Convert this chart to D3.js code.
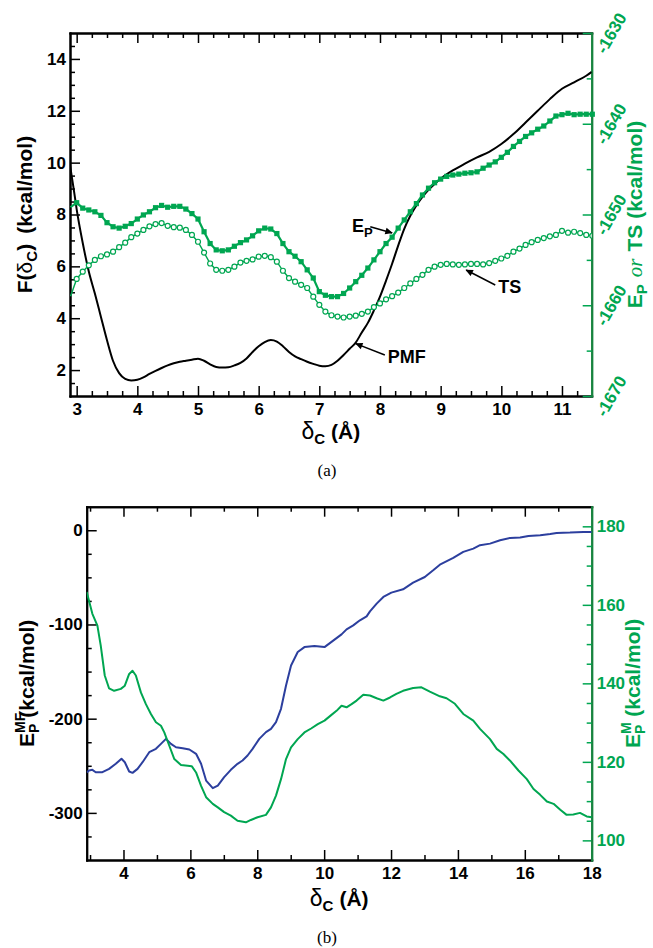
<!DOCTYPE html>
<html lang="en">
<head>
<meta charset="utf-8">
<title>PMF and energy components</title>
<script src="https://cdn.jsdelivr.net/npm/d3@7"></script>
<style>
	body { margin:0; background:#fff; }
	svg text { font-family: "Liberation Sans", Arial, sans-serif; font-weight: bold; }
</style>
</head>
<body>
<div id="chart"></div>
<script>

// ---- panel (a) data ----
// PMF, left axis (kcal/mol)
var pmfX = [2.89,2.95,3.0,3.1,3.2,3.3,3.4,3.5,3.6,3.7,3.8,3.9,4.0,4.1,4.2,4.3,4.4,4.5,4.6,4.7,4.8,4.9,5.0,5.1,5.2,5.3,5.4,5.5,5.6,5.7,5.8,5.9,6.0,6.1,6.2,6.3,6.4,6.5,6.6,6.7,6.8,6.9,7.0,7.1,7.2,7.3,7.4,7.5,7.6,7.7,7.8,7.9,8.0,8.1,8.2,8.3,8.4,8.5,8.6,8.7,8.8,8.9,9.0,9.2,9.4,9.6,9.8,10.0,10.2,10.4,10.6,10.8,11.0,11.2,11.4,11.49]
var pmfF = [9.9,9.0,8.2,6.9,5.8,4.95,4.05,3.15,2.35,1.88,1.66,1.6,1.63,1.72,1.85,1.97,2.08,2.18,2.26,2.32,2.36,2.4,2.44,2.36,2.22,2.12,2.1,2.11,2.18,2.28,2.45,2.7,2.92,3.08,3.16,3.1,2.92,2.7,2.53,2.42,2.32,2.24,2.17,2.15,2.2,2.36,2.58,2.82,3.06,3.45,3.82,4.3,4.83,5.45,6.1,6.8,7.45,7.95,8.35,8.68,8.95,9.18,9.38,9.7,9.96,10.2,10.42,10.72,11.1,11.55,12.0,12.45,12.85,13.1,13.35,13.5]

// E_P and TS, right axis (kcal/mol), sampled every 0.1 A
var gridX = [2.9,3.0,3.1,3.2,3.3,3.4,3.5,3.6,3.7,3.8,3.9,4.0,4.1,4.2,4.3,4.4,4.5,4.6,4.7,4.8,4.9,5.0,5.1,5.2,5.3,5.4,5.5,5.6,5.7,5.8,5.9,6.0,6.1,6.2,6.3,6.4,6.5,6.6,6.7,6.8,6.9,7.0,7.1,7.2,7.3,7.4,7.5,7.6,7.7,7.8,7.9,8.0,8.1,8.2,8.3,8.4,8.5,8.6,8.7,8.8,8.9,9.0,9.1,9.2,9.3,9.4,9.5,9.6,9.7,9.8,9.9,10.0,10.1,10.2,10.3,10.4,10.5,10.6,10.7,10.8,10.9,11.0,11.1,11.2,11.3,11.4,11.5]
var epE = [-1649.2,-1648.7,-1649.3,-1649.5,-1649.7,-1650.1,-1650.9,-1651.35,-1651.5,-1651.3,-1651.0,-1650.5,-1650.05,-1649.7,-1649.25,-1649.0,-1649.2,-1649.1,-1649.1,-1649.4,-1649.9,-1650.5,-1651.9,-1653.2,-1653.9,-1654.0,-1653.9,-1653.5,-1653.1,-1652.8,-1652.35,-1651.8,-1651.5,-1651.6,-1652.1,-1653.2,-1654.1,-1654.6,-1655.2,-1656.1,-1657.0,-1658.5,-1658.9,-1659.05,-1659.05,-1658.7,-1658.1,-1657.4,-1656.7,-1655.9,-1655.0,-1654.1,-1653.2,-1652.5,-1651.5,-1650.6,-1649.7,-1648.8,-1647.85,-1647.1,-1646.5,-1646.1,-1645.8,-1645.65,-1645.55,-1645.45,-1645.4,-1645.3,-1644.9,-1644.55,-1644.2,-1643.7,-1643.15,-1642.5,-1641.95,-1641.4,-1641.0,-1640.6,-1640.25,-1639.7,-1639.15,-1639.0,-1638.85,-1639.0,-1638.95,-1638.95,-1638.95]
var tsE = [-1659.0,-1657.1,-1656.3,-1655.6,-1655.0,-1654.6,-1654.4,-1654.1,-1653.6,-1653.1,-1652.5,-1652.1,-1651.7,-1651.3,-1651.05,-1650.95,-1651.25,-1651.4,-1651.45,-1651.7,-1652.25,-1653.0,-1654.2,-1655.4,-1656.1,-1656.2,-1656.1,-1655.75,-1655.3,-1655.1,-1654.95,-1654.65,-1654.55,-1654.7,-1655.2,-1656.2,-1657.0,-1657.4,-1657.75,-1658.1,-1659.05,-1659.95,-1660.7,-1661.1,-1661.25,-1661.35,-1661.25,-1661.15,-1660.95,-1660.7,-1660.2,-1659.8,-1659.35,-1659.0,-1658.6,-1658.1,-1657.6,-1657.1,-1656.65,-1656.1,-1655.75,-1655.55,-1655.45,-1655.5,-1655.55,-1655.5,-1655.45,-1655.45,-1655.5,-1655.35,-1655.1,-1654.85,-1654.55,-1654.1,-1653.75,-1653.35,-1653.05,-1652.8,-1652.6,-1652.4,-1652.25,-1651.8,-1652.0,-1651.9,-1652.05,-1652.25,-1652.35]

var aXTicks = [3,4,5,6,7,8,9,10,11]
var aYTicks = [2,4,6,8,10,12,14]
var aRTicks = [-1670,-1660,-1650,-1640,-1630]

// ---- panel (b) data ----
var mfX = [2.9,2.97,3.07,3.17,3.37,3.57,3.77,3.94,4.04,4.17,4.27,4.42,4.57,4.77,4.97,5.12,5.27,5.42,5.57,5.77,5.97,6.17,6.32,6.47,6.67,6.82,7.01,7.21,7.41,7.56,7.71,7.86,8.06,8.26,8.41,8.56,8.71,8.86,9.01,9.21,9.41,9.71,10.01,10.21,10.41,10.52,10.67,10.87,11.07,11.27,11.37,11.57,11.77,12.01,12.36,12.66,13.01,13.26,13.46,13.86,14.16,14.46,14.66,14.96,15.26,15.56,15.86,16.11,16.46,16.76,16.95,17.35,17.75,18.0]
var mfE = [-257,-255,-254.3,-256.8,-256.8,-253.3,-247.9,-242.6,-246.2,-256.1,-257.5,-253.3,-246.2,-235.6,-232.0,-226.7,-221.4,-226.7,-230.3,-231.3,-232.7,-237.3,-247.9,-265.7,-273.8,-271.0,-262.1,-254.3,-247.9,-244.4,-239.1,-232.0,-221.4,-214.3,-210.8,-203.7,-189.5,-164.7,-143.5,-129.3,-124.0,-122.9,-124.0,-118.7,-113.4,-110.5,-105.2,-101.0,-95.6,-91.4,-86.1,-77.9,-70.8,-66.2,-62.7,-55.6,-49.6,-42.5,-36.5,-29.4,-23.0,-19.5,-15.9,-14.2,-10.6,-8.1,-7.8,-6.0,-5.3,-3.9,-2.8,-2.5,-1.8,-1.8]
var mX = [2.9,3.07,3.22,3.32,3.44,3.57,3.72,3.92,4.04,4.17,4.27,4.37,4.52,4.67,4.82,4.97,5.12,5.22,5.37,5.52,5.72,5.92,6.04,6.17,6.32,6.47,6.67,6.82,7.01,7.21,7.41,7.66,7.81,8.01,8.26,8.41,8.56,8.71,8.86,9.01,9.21,9.41,9.61,9.81,10.01,10.21,10.37,10.52,10.67,10.82,10.97,11.17,11.37,11.57,11.77,11.97,12.16,12.36,12.66,12.91,13.16,13.46,13.66,13.91,14.16,14.46,14.66,14.96,15.16,15.36,15.56,15.81,16.06,16.26,16.46,16.66,16.86,17.06,17.25,17.45,17.65,17.85,18.0]
var mE = [163.3,157.7,154.7,149.6,142.0,138.7,138.1,138.6,139.4,142.4,143.2,142.0,137.7,134.7,132.2,130.1,129.2,127.5,124.1,120.7,119.2,119.0,118.9,117.3,113.9,111.0,109.3,108.4,107.2,106.3,105.0,104.6,105.2,105.9,106.5,108.4,111.4,115.6,120.7,123.7,125.8,127.5,128.5,129.6,130.5,131.9,133.0,134.3,133.9,134.7,135.6,137.1,136.9,136.2,135.6,136.4,137.3,138.1,138.8,139.0,137.9,136.7,136.2,134.8,132.2,130.5,128.4,125.8,123.3,122.0,120.3,117.8,115.6,113.1,111.6,109.9,109.3,107.8,106.5,106.6,107.0,106.1,105.9]

var bXTicks = [4,6,8,10,12,14,16,18]
var bYTicks = [-300,-200,-100,0]
var bRTicks = [100,120,140,160,180]

var green = "#00a651"
var greenDark = "#17843f"
var blue = "#2c3f9e"

var svg = d3.select("#chart").append("svg").attr("width",653).attr("height",948)

var defs = svg.append("defs")
defs.append("marker").attr("id","arrow").attr("viewBox","0 0 10 10")
	.attr("refX",9).attr("refY",5).attr("markerWidth",6).attr("markerHeight",5)
	.attr("orient","auto")
	.append("path").attr("d","M0,0.5 L10,5 L0,9.5 z").attr("fill","#000")

function minorTicks(a,b,step,majors){
	return d3.range(a,b+1e-9,step).filter(function(v){
		return !majors.some(function(m){return Math.abs(m-v)<1e-6})
	})
}

function addAxis(gen,transform,values,size,pad,labels,color){
	var g = svg.append("g").attr("transform",transform)
		.call(gen.tickValues(values).tickSizeInner(-size).tickSizeOuter(0).tickPadding(pad)
			.tickFormat(labels ? function(d){return String(d)} : ""))
	g.select(".domain").attr("stroke",color).attr("stroke-width",2).attr("stroke-linecap","square")
	g.selectAll(".tick line").attr("stroke",color).attr("stroke-width",1.5)
	g.selectAll(".tick text").attr("fill",color).style("font-size","17px")
	return g
}

// ================= panel (a) =================
var A = {l:70, r:591.7, t:33, b:396}
var x1 = d3.scaleLinear().domain([2.89,11.49]).range([A.l,A.r])
var y1 = d3.scaleLinear().domain([1,15]).range([A.b,A.t])
var y1r = d3.scaleLinear().domain([-1670,-1630]).range([A.b,A.t])

defs.append("clipPath").attr("id","clipA").append("rect")
	.attr("x",A.l).attr("y",A.t).attr("width",A.r-A.l).attr("height",A.b-A.t)

var aXMinor = minorTicks(3,11.25,0.25,aXTicks)
var aYMinor = minorTicks(1.5,14.5,0.5,aYTicks)
var aRMinor = [-1665,-1655,-1645,-1635]

addAxis(d3.axisBottom(x1),"translate(0,"+A.b+")",aXTicks,10,7,true,"#000")
addAxis(d3.axisBottom(x1),"translate(0,"+A.b+")",aXMinor,5,7,false,"#000")
addAxis(d3.axisTop(x1),"translate(0,"+A.t+")",aXTicks,10,7,false,"#000")
addAxis(d3.axisTop(x1),"translate(0,"+A.t+")",aXMinor,5,7,false,"#000")
addAxis(d3.axisLeft(y1),"translate("+A.l+",0)",aYTicks,10,4,true,"#000")
addAxis(d3.axisLeft(y1),"translate("+A.l+",0)",aYMinor,5,4,false,"#000")
addAxis(d3.axisRight(y1r),"translate("+A.r+",0)",aRTicks,9,4,false,green).select(".domain").attr("stroke",greenDark)
addAxis(d3.axisRight(y1r),"translate("+A.r+",0)",aRMinor,5,4,false,green).select(".domain").attr("stroke",greenDark)

// rotated right-hand labels
svg.append("g").selectAll("text").data(aRTicks).enter().append("text")
	.attr("transform",function(d){return "translate(611,"+y1r(d)+") rotate(-60)"})
	.attr("text-anchor","middle").attr("dy","0.36em")
	.attr("fill",green).style("font-size","17px")
	.text(function(d){return String(d)})

var plotA = svg.append("g").attr("clip-path","url(#clipA)")

var pmfLine = d3.line().x(function(d,i){return x1(pmfX[i])}).y(function(d){return y1(d)}).curve(d3.curveMonotoneX)
plotA.append("path").datum(pmfF).attr("d",pmfLine).attr("fill","none").attr("stroke","#000").attr("stroke-width",2)

var tsLine = d3.line().x(function(d,i){return x1(gridX[i])}).y(function(d){return y1r(d)})
plotA.append("path").datum(tsE).attr("d",tsLine).attr("fill","none").attr("stroke",green).attr("stroke-width",1.4)
plotA.selectAll(".ts").data(tsE.slice(1)).enter().append("circle")
	.attr("class","ts")
	.attr("cx",function(d,i){return x1(gridX[i+1])})
	.attr("cy",function(d){return y1r(d)})
	.attr("r",2.5).attr("fill","#fff").attr("stroke",green).attr("stroke-width",1.2)

plotA.append("path").datum(epE).attr("d",tsLine).attr("fill","none").attr("stroke",green).attr("stroke-width",2.2)
svg.append("g").selectAll(".ep").data(epE.slice(1)).enter().append("rect")
	.attr("class","ep")
	.attr("x",function(d,i){return x1(gridX[i+1])-2.6})
	.attr("y",function(d){return y1r(d)-2.6})
	.attr("width",5.2).attr("height",5.2).attr("fill",green)

// annotations (data coordinates of panel a, left axis)
var notes = [
	{label:"E", sub:"P", lx:7.54, ly:7.34, fx:7.84, fy:7.53, tx:8.2, ty:7.29},
	{label:"TS", sub:"", lx:9.95, ly:4.97, fx:9.9, fy:5.28, tx:9.42, ty:5.86},
	{label:"PMF", sub:"", lx:8.13, ly:2.26, fx:8.08, fy:2.58, tx:7.6, ty:3.02}
]
notes.forEach(function(n){
	svg.append("line").attr("x1",x1(n.fx)).attr("y1",y1(n.fy)).attr("x2",x1(n.tx)).attr("y2",y1(n.ty))
		.attr("stroke","#000").attr("stroke-width",1.5).attr("marker-end","url(#arrow)")
	var t = svg.append("text").attr("x",x1(n.lx)).attr("y",y1(n.ly)).style("font-size","18px")
	t.append("tspan").text(n.label)
	if(n.sub){ t.append("tspan").attr("dy",5).style("font-size","13px").text(n.sub) }
})

// axis titles (a)
var ta = svg.append("text").attr("transform","translate(32,"+((A.t+A.b)/2)+") rotate(-90)")
	.attr("text-anchor","middle").style("font-size","21px")
ta.append("tspan").text("F(")
ta.append("tspan").style("font-weight","normal").text("\u03b4")
ta.append("tspan").attr("dy",5).style("font-size","15px").text("C")
ta.append("tspan").attr("dy",-5).text(")")
ta.append("tspan").attr("dx",10).text("(kcal/mol)")

var tr = svg.append("text").attr("transform","translate(642,"+((A.t+A.b)/2)+") rotate(-90)")
	.attr("text-anchor","middle").attr("fill",green).style("font-size","21px")
tr.append("tspan").text("E")
tr.append("tspan").attr("dy",5).style("font-size","15px").text("P")
tr.append("tspan").attr("dy",-5).attr("dx",7).style("font-family","'Liberation Serif', serif")
	.style("font-style","italic").style("font-weight","normal").text("or")
tr.append("tspan").attr("dx",7).text("TS (kcal/mol)")

var xa = svg.append("text").attr("x",(A.l+A.r)/2).attr("y",439).attr("text-anchor","middle").style("font-size","21px")
xa.append("tspan").style("font-weight","normal").style("font-size","23px").text("\u03b4")
xa.append("tspan").attr("dy",5).style("font-size","15px").text("C")
xa.append("tspan").attr("dy",-5).attr("dx",6).text("(\u00c5)")

svg.append("text").attr("x",327).attr("y",476).attr("text-anchor","middle")
	.style("font-family","'Liberation Serif', serif").style("font-weight","normal").style("font-size","17px").text("(a)")

// ================= panel (b) =================
var B = {l:86.7, r:591.7, t:506.7, b:860}
var x2 = d3.scaleLinear().domain([2.9,18]).range([B.l,B.r])
var y2 = d3.scaleLinear().domain([-350,25]).range([B.b,B.t])
var y2r = d3.scaleLinear().domain([95,185]).range([B.b,B.t])

defs.append("clipPath").attr("id","clipB").append("rect")
	.attr("x",B.l).attr("y",B.t).attr("width",B.r-B.l).attr("height",B.b-B.t)

var bXMinor = minorTicks(3,17,1,bXTicks)
var bYMinor = minorTicks(-325,0,25,bYTicks)
var bRMinor = minorTicks(100,180,5,bRTicks)

addAxis(d3.axisBottom(x2),"translate(0,"+B.b+")",bXTicks,10,7,true,"#000")
addAxis(d3.axisBottom(x2),"translate(0,"+B.b+")",bXMinor,5,7,false,"#000")
addAxis(d3.axisTop(x2),"translate(0,"+B.t+")",bXTicks,10,7,false,"#000")
addAxis(d3.axisTop(x2),"translate(0,"+B.t+")",bXMinor,5,7,false,"#000")
addAxis(d3.axisLeft(y2),"translate("+B.l+",0)",bYTicks,10,4,true,"#000")
addAxis(d3.axisLeft(y2),"translate("+B.l+",0)",bYMinor,5,4,false,"#000")
addAxis(d3.axisRight(y2r),"translate("+B.r+",0)",bRTicks,9,5,true,green).select(".domain").attr("stroke",greenDark)
addAxis(d3.axisRight(y2r),"translate("+B.r+",0)",bRMinor,5,5,false,green).select(".domain").attr("stroke",greenDark)

var plotB = svg.append("g").attr("clip-path","url(#clipB)")
plotB.append("path").datum(mfE)
	.attr("d",d3.line().x(function(d,i){return x2(mfX[i])}).y(function(d){return y2(d)}))
	.attr("fill","none").attr("stroke",blue).attr("stroke-width",2).attr("stroke-linejoin","round")
plotB.append("path").datum(mE)
	.attr("d",d3.line().x(function(d,i){return x2(mX[i])}).y(function(d){return y2r(d)}))
	.attr("fill","none").attr("stroke",green).attr("stroke-width",2).attr("stroke-linejoin","round")

// axis titles (b) with stacked super/subscripts
function stacked(t,sup,sub){
	t.append("tspan").text("E")
	var s = t.append("tspan").attr("dy",-9).style("font-size","14px").text(sup)
	var w = s.node().getComputedTextLength()
	t.append("tspan").attr("dx",-w).attr("dy",14).style("font-size","14px").text(sub)
	return w
}
var tb = svg.append("text").attr("transform","translate(34,"+((B.t+B.b)/2)+") rotate(-90)")
	.attr("text-anchor","middle").style("font-size","21px")
stacked(tb,"MF","P")
tb.append("tspan").attr("dy",-5).attr("dx",6).text("(kcal/mol)")

var tbr = svg.append("text").attr("transform","translate(640,"+((B.t+B.b)/2)+") rotate(-90)")
	.attr("text-anchor","middle").attr("fill",green).style("font-size","21px")
stacked(tbr,"M","P")
tbr.append("tspan").attr("dy",-5).attr("dx",8).text("(kcal/mol)")

var xb = svg.append("text").attr("x",(B.l+B.r)/2).attr("y",906).attr("text-anchor","middle").style("font-size","21px")
xb.append("tspan").style("font-weight","normal").style("font-size","23px").text("\u03b4")
xb.append("tspan").attr("dy",5).style("font-size","15px").text("C")
xb.append("tspan").attr("dy",-5).attr("dx",6).text("(\u00c5)")

svg.append("text").attr("x",327).attr("y",943).attr("text-anchor","middle")
	.style("font-family","'Liberation Serif', serif").style("font-weight","normal").style("font-size","17px").text("(b)")

</script>
</body>
</html>
